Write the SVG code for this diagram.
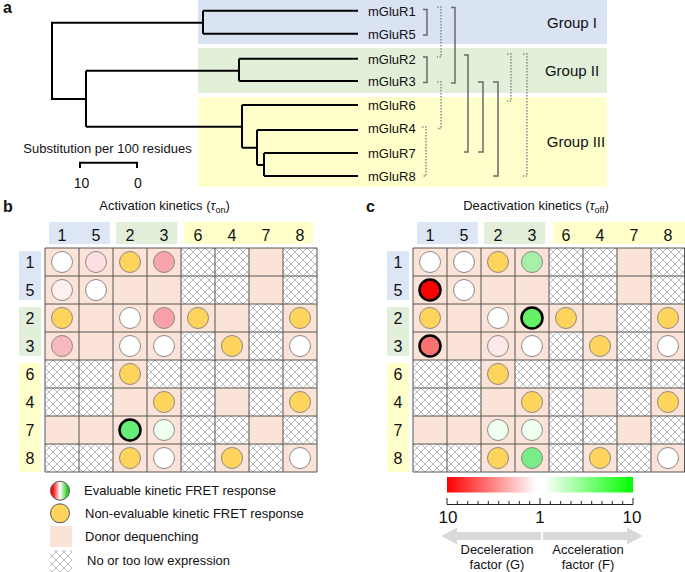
<svg xmlns="http://www.w3.org/2000/svg" width="685" height="572" viewBox="0 0 685 572">
<style>
text{font-family:"Liberation Sans",Arial,sans-serif;fill:#111}
.lbl{font-size:16px;font-weight:bold}
.leaf{font-size:13px}
.grp{font-size:15px}
.hd{font-size:16px;text-anchor:middle}
.t13{font-size:13px}
.mid{text-anchor:middle}
.tree{fill:none;stroke:#000;stroke-width:2}
.br{fill:none;stroke:#6a6a6a;stroke-width:1.5}
.dot{fill:none;stroke:#8a8a8a;stroke-width:1.5;stroke-dasharray:1.5 1.5}
.grid{stroke:#555;stroke-width:1;fill:none}
.peach{fill:#fbe4d7}
.hat{fill:url(#hatch)}
circle{stroke:#8a8a8a;stroke-width:1}
.w{fill:#fff}
.y{fill:#ffd45c}
.thick{stroke:#000;stroke-width:2.5}
</style>
<defs>
<pattern id="hatch" patternUnits="userSpaceOnUse" width="8" height="8">
<rect width="8" height="8" fill="#fff"/>
<path d="M0,0 L8,8 M8,0 L0,8" stroke="#a8a8a8" stroke-width="0.8"/>
</pattern>
<linearGradient id="bar" x1="0" x2="1" y1="0" y2="0">
<stop offset="0" stop-color="#ff0000"/>
<stop offset="0.48" stop-color="#ffffff"/>
<stop offset="0.52" stop-color="#ffffff"/>
<stop offset="1" stop-color="#00ff00"/>
</linearGradient>
<linearGradient id="leg" x1="0" x2="1" y1="0" y2="0">
<stop offset="0.1" stop-color="#ff0000"/>
<stop offset="0.5" stop-color="#ffffff"/>
<stop offset="0.9" stop-color="#22cc22"/>
</linearGradient>
<g id="hrow">
<rect x="0" y="0" width="34" height="28" class="hat"/>
</g>
</defs>

<!-- Panel a -->
<g id="panel-a">
<text x="3" y="13" class="lbl">a</text>
<rect x="198" y="0" width="409" height="44" fill="#dae3f3"/>
<rect x="198" y="48" width="409" height="45" fill="#e2efd9"/>
<rect x="198" y="97" width="409" height="90" fill="#ffffcc"/>
<text x="572" y="28" class="grp mid">Group I</text>
<text x="572" y="76" class="grp mid">Group II</text>
<text x="576" y="147" class="grp mid">Group III</text>
<g id="tree">
<path class="tree" d="M203,22.7 H52 V99 H86 M203,10.7 V33.7 M203,10.7 H358 M203,33.7 H358 M86,70.7 V126.7 M86,70.7 H239 M239,58.7 V81 M239,58.7 H358 M239,81 H358 M86,126.7 H242 M242,105 V147.7 M242,105 H358 M242,147.7 H257 M257,130 V165 M257,130 H358 M257,165 H264 M264,153 V176 M264,153 H358 M264,176 H358"/>
</g>
<g id="leaves">
<text x="368" y="15.5" class="leaf">mGluR1</text>
<text x="368" y="38.5" class="leaf">mGluR5</text>
<text x="368" y="63.5" class="leaf">mGluR2</text>
<text x="368" y="86" class="leaf">mGluR3</text>
<text x="368" y="110" class="leaf">mGluR6</text>
<text x="368" y="133" class="leaf">mGluR4</text>
<text x="368" y="158" class="leaf">mGluR7</text>
<text x="368" y="181" class="leaf">mGluR8</text>
</g>
<g id="connectors">
<path class="br" d="M423,9.5 H427 V35 H423"/>
<path class="br" d="M423,57 H427 V82.5 H423"/>
<path class="br" d="M451,7.5 H455 V83 H451"/>
<path class="br" d="M464,55 H468 V152 H464"/>
<path class="br" d="M478,82 H483 V152 H478"/>
<path class="br" d="M493,82 H498 V176 H493"/>
<path class="dot" d="M437,7 H441 V57 H437"/>
<path class="dot" d="M437,82 H441 V128.5 H437"/>
<path class="dot" d="M422,127 H426 V176 H422"/>
<path class="dot" d="M507,54 H511 V101 H507"/>
<path class="dot" d="M523,54 H527 V176 H523"/>
</g>
<g id="scale">
<text x="107.5" y="152.5" class="t13 mid">Substitution per 100 residues</text>
<path class="tree" d="M80,168 V162.7 H137 V168"/>
<text x="81.5" y="188" class="mid" style="font-size:14px">10</text>
<text x="138" y="188" class="mid" style="font-size:14px">0</text>
</g>
</g>

<!-- Panel b -->
<g id="panel-b">
<text x="3" y="212" class="lbl">b</text>
<text x="164.5" y="210" class="t13 mid">Activation kinetics (<tspan font-style="italic">τ</tspan><tspan font-size="9" dy="3">on</tspan><tspan dy="-3">)</tspan></text>
<rect x="49" y="222" width="61" height="22" fill="#dce6f4"/>
<rect x="116" y="222" width="61" height="22" fill="#e2efda"/>
<rect x="184" y="222" width="129" height="22" fill="#ffffcc"/>
<rect x="19" y="251" width="22" height="49" fill="#dce6f4"/>
<rect x="19" y="307" width="22" height="49" fill="#e2efda"/>
<rect x="19" y="363" width="22" height="109" fill="#ffffcc"/>
<g id="b-colhead">
<text x="62" y="241" class="hd">1</text><text x="96" y="241" class="hd">5</text><text x="130" y="241" class="hd">2</text><text x="164" y="241" class="hd">3</text><text x="198" y="241" class="hd">6</text><text x="232" y="241" class="hd">4</text><text x="266" y="241" class="hd">7</text><text x="300" y="241" class="hd">8</text>
</g>
<g id="b-rowhead">
<text x="30" y="268" class="hd">1</text><text x="30" y="296" class="hd">5</text><text x="30" y="324" class="hd">2</text><text x="30" y="352" class="hd">3</text><text x="30" y="380" class="hd">6</text><text x="30" y="408" class="hd">4</text><text x="30" y="436" class="hd">7</text><text x="30" y="464" class="hd">8</text>
</g>
<g id="b-grid" transform="translate(45,248)">
<rect x="0" y="0" width="272" height="224" class="peach"/>
<use href="#hrow" x="136" y="0"/><use href="#hrow" x="170" y="0"/><use href="#hrow" x="238" y="0"/>
<use href="#hrow" x="136" y="28"/><use href="#hrow" x="170" y="28"/><use href="#hrow" x="238" y="28"/>
<use href="#hrow" x="204" y="56"/>
<use href="#hrow" x="136" y="84"/><use href="#hrow" x="204" y="84"/>
<use href="#hrow" x="0" y="112"/><use href="#hrow" x="34" y="112"/><use href="#hrow" x="102" y="112"/><use href="#hrow" x="136" y="112"/><use href="#hrow" x="170" y="112"/><use href="#hrow" x="204" y="112"/><use href="#hrow" x="238" y="112"/>
<use href="#hrow" x="0" y="140"/><use href="#hrow" x="34" y="140"/><use href="#hrow" x="136" y="140"/><use href="#hrow" x="204" y="140"/>
<use href="#hrow" x="136" y="168"/><use href="#hrow" x="170" y="168"/><use href="#hrow" x="238" y="168"/>
<use href="#hrow" x="0" y="196"/><use href="#hrow" x="34" y="196"/><use href="#hrow" x="136" y="196"/><use href="#hrow" x="204" y="196"/>
<path class="grid" d="M0,0 V224 M34,0 V224 M68,0 V224 M102,0 V224 M136,0 V224 M170,0 V224 M204,0 V224 M238,0 V224 M272,0 V224 M0,0 H272 M0,28 H272 M0,56 H272 M0,84 H272 M0,112 H272 M0,140 H272 M0,168 H272 M0,196 H272 M0,224 H272"/>
<circle cx="17" cy="14" r="10.5" class="w"/>
<circle cx="51" cy="14" r="10.5" fill="#fde0e4"/>
<circle cx="85" cy="14" r="10.5" class="y"/>
<circle cx="119" cy="14" r="10.5" fill="#f9a3ab"/>
<circle cx="17" cy="42" r="10.5" fill="#fff0f0"/>
<circle cx="51" cy="42" r="10.5" class="w"/>
<circle cx="17" cy="70" r="10.5" class="y"/>
<circle cx="85" cy="70" r="10.5" class="w"/>
<circle cx="119" cy="70" r="10.5" fill="#f9a0a8"/>
<circle cx="153" cy="70" r="10.5" class="y"/>
<circle cx="255" cy="70" r="10.5" class="y"/>
<circle cx="17" cy="98" r="10.5" fill="#f8b8c0"/>
<circle cx="85" cy="98" r="10.5" class="w"/>
<circle cx="119" cy="98" r="10.5" class="w"/>
<circle cx="187" cy="98" r="10.5" class="y"/>
<circle cx="255" cy="98" r="10.5" class="w"/>
<circle cx="85" cy="126" r="10.5" class="y"/>
<circle cx="119" cy="154" r="10.5" class="y"/>
<circle cx="255" cy="154" r="10.5" class="y"/>
<circle cx="85" cy="182" r="10.5" fill="#66ee77" class="thick"/>
<circle cx="119" cy="182" r="10.5" fill="#f0fff0"/>
<circle cx="85" cy="210" r="10.5" class="y"/>
<circle cx="119" cy="210" r="10.5" class="w"/>
<circle cx="187" cy="210" r="10.5" class="y"/>
<circle cx="255" cy="210" r="10.5" class="w"/>
</g>
</g>

<!-- Panel c -->
<g id="panel-c">
<text x="366" y="212" class="lbl">c</text>
<text x="536" y="210" class="t13 mid">Deactivation kinetics (<tspan font-style="italic">τ</tspan><tspan font-size="9" dy="3">off</tspan><tspan dy="-3">)</tspan></text>
<rect x="417" y="222" width="61" height="22" fill="#dce6f4"/>
<rect x="484" y="222" width="61" height="22" fill="#e2efda"/>
<rect x="553" y="222" width="132" height="22" fill="#ffffcc"/>
<rect x="387" y="251" width="22" height="49" fill="#dce6f4"/>
<rect x="387" y="307" width="22" height="49" fill="#e2efda"/>
<rect x="387" y="363" width="22" height="109" fill="#ffffcc"/>
<g id="c-colhead">
<text x="430" y="241" class="hd">1</text><text x="464" y="241" class="hd">5</text><text x="498" y="241" class="hd">2</text><text x="532" y="241" class="hd">3</text><text x="566" y="241" class="hd">6</text><text x="600" y="241" class="hd">4</text><text x="634" y="241" class="hd">7</text><text x="668" y="241" class="hd">8</text>
</g>
<g id="c-rowhead">
<text x="398" y="268" class="hd">1</text><text x="398" y="296" class="hd">5</text><text x="398" y="324" class="hd">2</text><text x="398" y="352" class="hd">3</text><text x="398" y="380" class="hd">6</text><text x="398" y="408" class="hd">4</text><text x="398" y="436" class="hd">7</text><text x="398" y="464" class="hd">8</text>
</g>
<g id="c-grid" transform="translate(413,248)">
<rect x="0" y="0" width="272" height="224" class="peach"/>
<use href="#hrow" x="136" y="0"/><use href="#hrow" x="170" y="0"/><use href="#hrow" x="238" y="0"/>
<use href="#hrow" x="136" y="28"/><use href="#hrow" x="170" y="28"/><use href="#hrow" x="238" y="28"/>
<use href="#hrow" x="204" y="56"/>
<use href="#hrow" x="136" y="84"/><use href="#hrow" x="204" y="84"/>
<use href="#hrow" x="0" y="112"/><use href="#hrow" x="34" y="112"/><use href="#hrow" x="102" y="112"/><use href="#hrow" x="136" y="112"/><use href="#hrow" x="170" y="112"/><use href="#hrow" x="204" y="112"/><use href="#hrow" x="238" y="112"/>
<use href="#hrow" x="0" y="140"/><use href="#hrow" x="34" y="140"/><use href="#hrow" x="136" y="140"/><use href="#hrow" x="204" y="140"/>
<use href="#hrow" x="136" y="168"/><use href="#hrow" x="170" y="168"/><use href="#hrow" x="238" y="168"/>
<use href="#hrow" x="0" y="196"/><use href="#hrow" x="34" y="196"/><use href="#hrow" x="136" y="196"/><use href="#hrow" x="204" y="196"/>
<path class="grid" d="M0,0 V224 M34,0 V224 M68,0 V224 M102,0 V224 M136,0 V224 M170,0 V224 M204,0 V224 M238,0 V224 M271.5,0 V224 M0,0 H272 M0,28 H272 M0,56 H272 M0,84 H272 M0,112 H272 M0,140 H272 M0,168 H272 M0,196 H272 M0,224 H272"/>
<circle cx="17" cy="14" r="10.5" class="w"/>
<circle cx="51" cy="14" r="10.5" class="w"/>
<circle cx="85" cy="14" r="10.5" class="y"/>
<circle cx="119" cy="14" r="10.5" fill="#a6f0a8"/>
<circle cx="17" cy="42" r="10.5" fill="#ff0000" class="thick"/>
<circle cx="51" cy="42" r="10.5" class="w"/>
<circle cx="17" cy="70" r="10.5" class="y"/>
<circle cx="85" cy="70" r="10.5" class="w"/>
<circle cx="119" cy="70" r="10.5" fill="#66f066" class="thick"/>
<circle cx="153" cy="70" r="10.5" class="y"/>
<circle cx="255" cy="70" r="10.5" class="y"/>
<circle cx="17" cy="98" r="10.5" fill="#f87272" class="thick"/>
<circle cx="85" cy="98" r="10.5" fill="#fde8ea"/>
<circle cx="119" cy="98" r="10.5" class="w"/>
<circle cx="187" cy="98" r="10.5" class="y"/>
<circle cx="255" cy="98" r="10.5" class="w"/>
<circle cx="85" cy="126" r="10.5" class="y"/>
<circle cx="119" cy="154" r="10.5" class="y"/>
<circle cx="255" cy="154" r="10.5" class="y"/>
<circle cx="85" cy="182" r="10.5" fill="#f0fff0"/>
<circle cx="119" cy="182" r="10.5" fill="#f0fff0"/>
<circle cx="85" cy="210" r="10.5" class="y"/>
<circle cx="119" cy="210" r="10.5" fill="#77ee88"/>
<circle cx="187" cy="210" r="10.5" class="y"/>
<circle cx="255" cy="210" r="10.5" class="w"/>
</g>
</g>

<!-- Legend -->
<g id="legend">
<circle cx="60" cy="490.7" r="9.5" fill="url(#leg)" style="stroke:#555"/>
<text x="84" y="495.3" class="t13">Evaluable kinetic FRET response</text>
<circle cx="60" cy="513.3" r="9.5" class="y" style="stroke:#555"/>
<text x="85" y="518" class="t13">Non-evaluable kinetic FRET response</text>
<rect x="50" y="526" width="22" height="21" class="peach"/>
<text x="85" y="541" class="t13">Donor dequenching</text>
<rect x="50" y="550" width="22" height="22" class="hat"/>
<text x="87" y="565" class="t13">No or too low expression</text>
</g>

<!-- Colour bar -->
<g id="colorbar">
<rect x="447" y="477" width="186" height="15.5" fill="url(#bar)"/>
<path fill="none" stroke="#222" stroke-width="1" d="M447,504.5 H633 M447,498 V504.5 M540,498 V504.5 M633,498 V504.5 M457.3,501 V504.5 M467.7,501 V504.5 M478,501 V504.5 M488.3,501 V504.5 M498.7,501 V504.5 M509,501 V504.5 M519.3,501 V504.5 M529.7,501 V504.5 M550.3,501 V504.5 M560.7,501 V504.5 M571,501 V504.5 M581.3,501 V504.5 M591.7,501 V504.5 M602,501 V504.5 M612.3,501 V504.5 M622.7,501 V504.5"/>
<text x="448" y="523" class="mid" style="font-size:17px">10</text>
<text x="540" y="523" class="mid" style="font-size:17px">1</text>
<text x="632" y="523" class="mid" style="font-size:17px">10</text>
<polygon points="541,532 457,532 457,527.5 441.5,536 457,544.5 457,540 541,540" fill="#d9d9d9"/>
<polygon points="543,532 627,532 627,527.5 643,536 627,544.5 627,540 543,540" fill="#d9d9d9"/>
<text x="497" y="553.5" class="t13 mid">Deceleration</text>
<text x="497" y="569" class="t13 mid">factor (G)</text>
<text x="588" y="553.5" class="t13 mid">Acceleration</text>
<text x="588" y="569" class="t13 mid">factor (F)</text>
</g>
</svg>
